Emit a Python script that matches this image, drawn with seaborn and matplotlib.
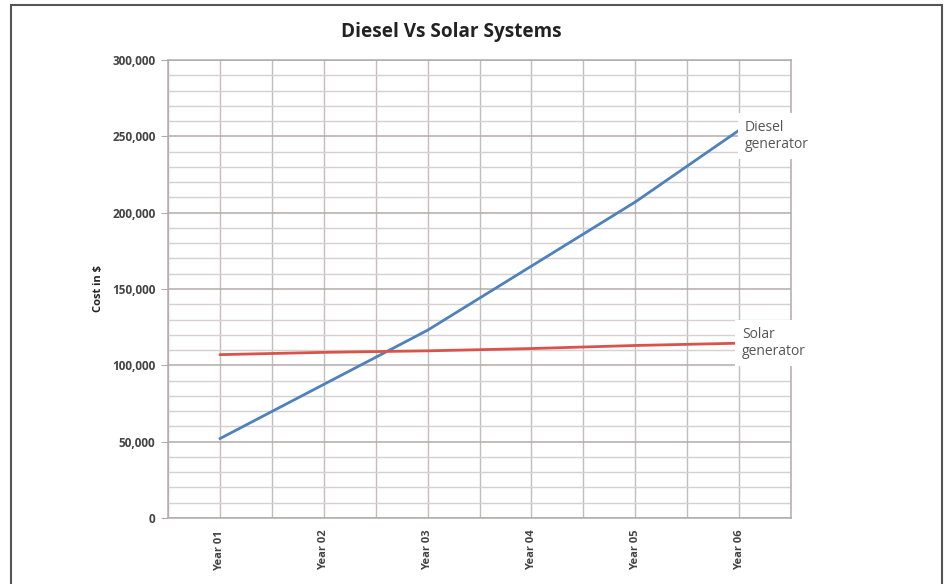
import pandas as pd
import matplotlib.pyplot as plt
import seaborn as sns
from matplotlib.ticker import MultipleLocator, FuncFormatter
from matplotlib.patches import Rectangle


years = ['Year 01', 'Year 02', 'Year 03', 'Year 04', 'Year 05', 'Year 06']
diesel = [52000, 87500, 123000, 165000, 207000, 254000]
solar = [107000, 108500, 109500, 111000, 113000, 114500]

df = pd.DataFrame({
    'Year': years * 2,
    'Cost': diesel + solar,
    'System': ['Diesel generator'] * 6 + ['Solar generator'] * 6,
})

sns.set_style('white')
plt.rcParams['font.family'] = ['Open Sans', 'DejaVu Sans']

fig = plt.figure(figsize=(9.46, 5.84), dpi=100)
ax = fig.add_axes([168 / 946, 1 - 518 / 584, 623 / 946, 458 / 584])

sns.lineplot(data=df, x='Year', y='Cost', hue='System',
             palette={'Diesel generator': '#4f81bd', 'Solar generator': '#d9534a'},
             linewidth=2, legend=False, ax=ax, zorder=3)

ax.set_xlim(-0.5, 5.5)
ax.set_ylim(0, 300000)
ax.yaxis.set_major_locator(MultipleLocator(50000))
ax.yaxis.set_minor_locator(MultipleLocator(10000))
ax.xaxis.set_minor_locator(MultipleLocator(0.5))
ax.yaxis.set_major_formatter(FuncFormatter(lambda v, p: f'{int(v):,}'))

ax.grid(which='major', axis='y', color='#b3abab', linewidth=1.1, zorder=0)
ax.grid(which='minor', axis='y', color='#d6d0d0', linewidth=1.0, zorder=0)
ax.grid(which='both', axis='x', color='#c2bcbc', linewidth=1.0, zorder=0)
ax.set_axisbelow(True)
for s in ax.spines.values():
    s.set_color('#b3abab')
    s.set_linewidth(1.1)

ax.tick_params(axis='y', which='major', left=True, length=5, color='#b3abab',
               labelsize=8.5, labelcolor='#444444', pad=4)
ax.tick_params(axis='y', which='minor', left=False)
ax.tick_params(axis='x', which='both', bottom=False, labelsize=8, labelcolor='#444444', pad=5)
for lbl in ax.get_yticklabels():
    lbl.set_fontweight('bold')
for lbl in ax.get_xticklabels():
    lbl.set_rotation(90)
    lbl.set_fontweight('bold')

ax.set_xlabel('')
ax.set_ylabel('Cost in $', fontsize=8, fontweight='bold', color='#222222', labelpad=6)

fig.text(451 / 946, 1 - 32 / 584, 'Diesel Vs Solar Systems', fontsize=13.7, fontweight='bold',
         color='#222222', ha='center', va='center')

ax.annotate('Diesel\ngenerator', xy=(5, diesel[-1]), xytext=(4, -4), textcoords='offset points',
            ha='left', va='center', fontsize=10, color='#555555', linespacing=1.15,
            bbox=dict(facecolor='white', edgecolor='none', pad=5), zorder=5,
            annotation_clip=False)
ax.annotate('Solar\ngenerator', xy=(5, solar[-1]), xytext=(2, 0), textcoords='offset points',
            ha='left', va='center', fontsize=10, color='#555555', linespacing=1.15,
            bbox=dict(facecolor='white', edgecolor='none', pad=5), zorder=5,
            annotation_clip=False)

fig.patches.append(Rectangle((11 / 946, -0.05), 931 / 946, 1.05 - 5 / 584,
                             transform=fig.transFigure, fill=False,
                             edgecolor='#555555', linewidth=1.5))

fig.savefig('out.png', dpi=100)
